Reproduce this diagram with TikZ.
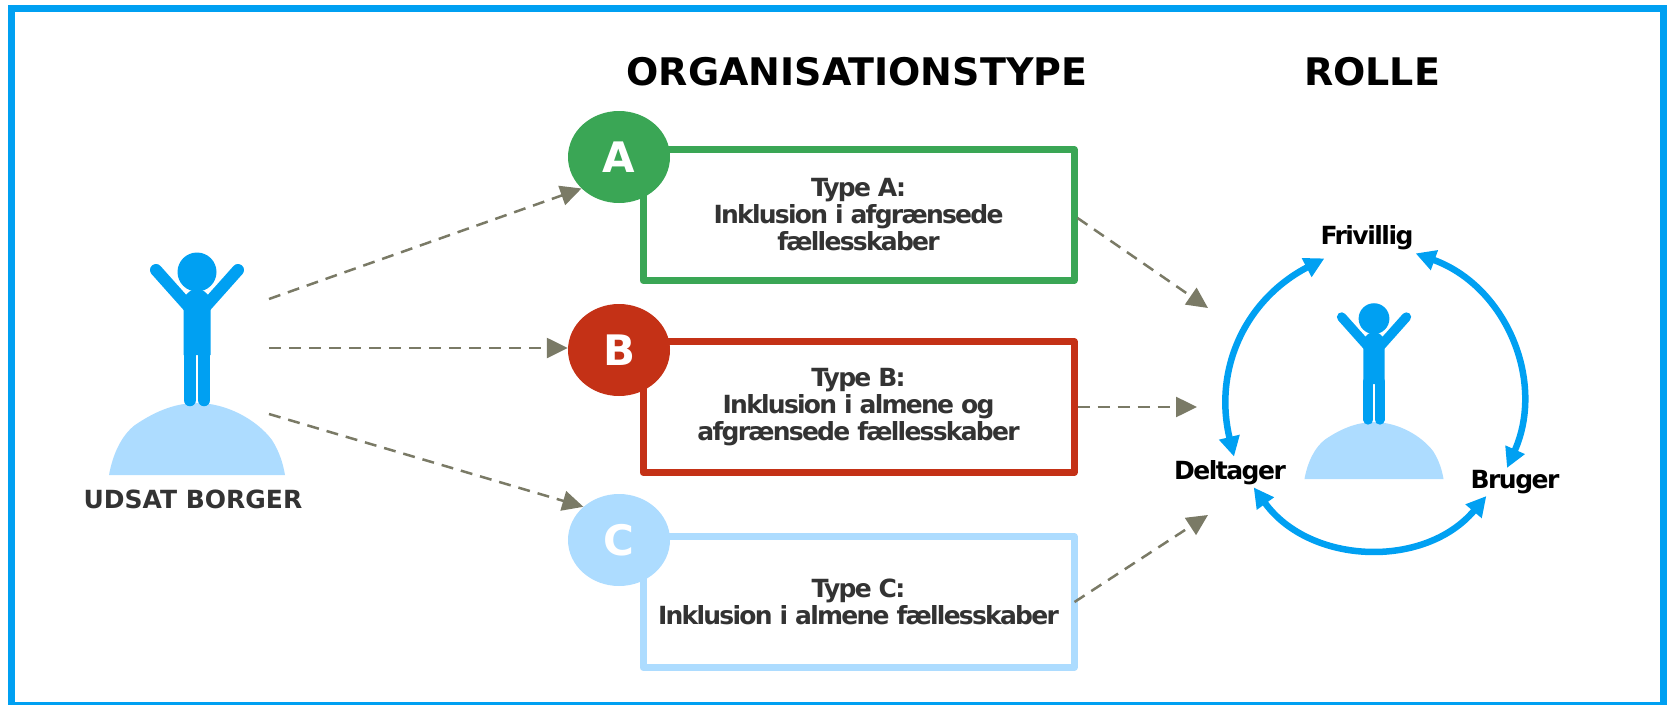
\documentclass[tikz,border=0pt]{standalone}
\usepackage{fontspec}
\setmainfont{DejaVu Sans}
\usetikzlibrary{arrows.meta,shapes.geometric}

\definecolor{blueline}{HTML}{00A0F2}
\definecolor{bluelight}{HTML}{ADDCFF}
\definecolor{greenbox}{HTML}{3AA655}
\definecolor{redbox}{HTML}{C43116}
\definecolor{greyarrow}{HTML}{7A7A66}
\definecolor{darktext}{HTML}{333333}

\tikzset{
    typebox/.style={draw=#1,line width=7pt,line join=round,fill=white,minimum width=431pt,minimum height=131pt,
        align=center,text=darktext,font=\fontsize{25}{27}\selectfont\bfseries\addfontfeature{LetterSpace=-7}},
    letterdot/.style={ellipse,fill=#1,minimum width=102pt,minimum height=92pt,inner sep=0pt,text=white,
        font=\fontsize{42}{42}\selectfont\bfseries},
    flowarrow/.style={draw=greyarrow,line width=2.5pt,dash pattern=on 12pt off 8pt,
        -{Triangle[length=21pt,width=20pt,fill=greyarrow,color=greyarrow]}},
    rolearrow/.style={draw=blueline,line width=6.5pt,looseness=1.05,
        {Triangle[length=20pt,width=20pt,fill=blueline,color=blueline]}-{Triangle[length=20pt,width=20pt,fill=blueline,color=blueline]}},
    rolelabel/.style={inner sep=2pt,text=black,font=\fontsize{25}{27}\selectfont\bfseries\addfontfeature{LetterSpace=-6}},
    headtext/.style={inner sep=0pt,text=black,font=\fontsize{38}{42}\selectfont\bfseries}
}

% person standing on a mound, #1 = base centre, #2 = scale
\newcommand{\personfig}[2]{
    \begin{scope}[shift={#1},scale=#2]
        \fill[bluelight] (-88,0) .. controls (-84,-22) and (-75,-40) .. (-62,-50) .. controls (-40,-65) and (-20,-72) .. (0,-72)
            .. controls (30,-72) and (60,-55) .. (75,-35) .. controls (82,-24) and (86,-12) .. (88,0) -- cycle;
        \fill[blueline] (0,-203) circle (19.5);
        \fill[blueline] (-13.5,-120) -- (-13.5,-176) .. controls (-10,-183) and (-5,-186) .. (0,-186)
            .. controls (5,-186) and (10,-183) .. (13.5,-176) -- (13.5,-120) -- cycle;
        \draw[blueline,line width=\fpeval{12*#2}pt,line cap=round] (-41,-205) -- (-8,-168);
        \draw[blueline,line width=\fpeval{12*#2}pt,line cap=round] (41,-205) -- (8,-168);
        \draw[blueline,line width=\fpeval{12.5*#2}pt,line cap=round] (-7.2,-124) -- (-7.2,-75);
        \draw[blueline,line width=\fpeval{12.5*#2}pt,line cap=round] (7.2,-124) -- (7.2,-75);
    \end{scope}
}

\begin{document}
\begin{tikzpicture}[x=1pt,y=-1pt]

\useasboundingbox (0,0) rectangle (1667,704);
\draw[blueline,line width=7pt] (11.5,8.5) rectangle (1663.5,705.5);

\node[headtext] (headtype) at (857,72) {ORGANISATIONSTYPE};
\node[headtext] (headrole) at (1372,72) {ROLLE};

% left person
\personfig{(197,475)}{1}
\node[inner sep=0pt,text=darktext,font=\fontsize{25}{30}\selectfont\bfseries] (borger) at (193,499) {UDSAT BORGER};
\coordinate (borgerA) at (269,299);
\coordinate (borgerB) at (269,348);
\coordinate (borgerC) at (269,414);

% organisation types
\node[typebox=greenbox] (boxA) at (858.5,215) {Type A:\\Inklusion i afgrænsede\\fællesskaber};
\node[typebox=redbox] (boxB) at (858.5,407) {Type B:\\Inklusion i almene og\\afgrænsede fællesskaber};
\node[typebox=bluelight] (boxC) at (858.5,602) {Type C:\\Inklusion i almene fællesskaber};

\node[letterdot=greenbox] (dotA) at (619,157) {A};
\node[letterdot=redbox] (dotB) at (619,350) {B};
\node[letterdot=bluelight] (dotC) at (619,540) {C};

% right person
\personfig{(1374,479)}{0.79}
\node[rolelabel] (frivillig) at (1367,238) {Frivillig};
\node[rolelabel] (deltager) at (1230,473) {Deltager};
\node[rolelabel] (bruger) at (1515,482) {Bruger};

\coordinate (rolleA) at (1208,308);
\coordinate (rolleB) at (1197,407);
\coordinate (rolleC) at (1208,515);

\draw[flowarrow] (borgerA) -- (dotA.220);
\draw[flowarrow] (borgerB) -- (borgerB -| dotB.west);
\draw[flowarrow] (borgerC) -- (dotC.137);
\draw[flowarrow] ([yshift=-3pt]boxA.east) -- (rolleA);
\draw[flowarrow] (boxB.east) -- (rolleB);
\draw[flowarrow] ([xshift=-3pt]boxC.east) -- (rolleC);

\draw[rolearrow] ([xshift=4pt,yshift=2pt]deltager.north) to[bend left=38] ([xshift=6pt,yshift=-6pt]frivillig.south west);
\draw[rolearrow] ([yshift=-1pt]frivillig.south east) to[bend left=47] ([xshift=-8pt]bruger.north);
\draw[rolearrow] ([xshift=18pt]bruger.south west) to[bend left=52] ([xshift=17pt]deltager.-65);

\end{tikzpicture}
\end{document}
